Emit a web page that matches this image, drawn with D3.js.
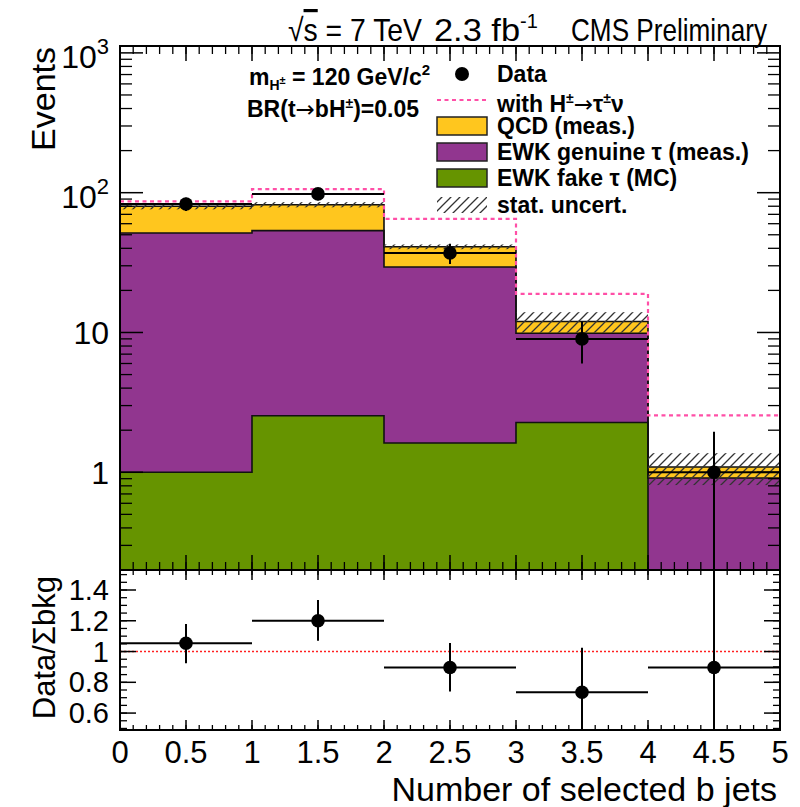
<!DOCTYPE html>
<html>
<head>
<meta charset="utf-8">
<script src="https://cdn.jsdelivr.net/npm/d3@7"></script>
<style>
body { margin: 0; background: #fff; }
svg { font-family: "Liberation Sans", Arial, Helvetica, sans-serif; }
.arrow { font-family: "DejaVu Sans", sans-serif; font-weight: normal; }
</style>
</head>
<body>
<svg id="chart" width="800" height="807"></svg>
<script>
// bins of "Number of selected b jets"
var binEdges = [0, 1, 2, 3, 4, 5];
var binCenters = [0.5, 1.5, 2.5, 3.5, 4.5];

// stacked backgrounds (events per bin)
var ewkFake = [1.0, 2.54, 1.62, 2.27, 0];
var ewkGenuine = [50.5, 51.0, 27.8, 7.6, 0.91];
var qcdMeas = [28.5, 28.5, 11.6, 2.1, 0.18];
var bkgStatErr = [4.0, 3.5, 1.6, 2.0, 0.28];

// signal + background, H+ -> tau nu
var withHiggs = [86.7, 106, 65, 18.9, 2.55];

// data
var dataCounts = [83, 98, 37, 9, 1];
var dataErrUp = [9.1, 9.9, 6.1, 3.0, 0.95];
var dataErrDown = [9.1, 9.9, 6.1, 3.0, 1.0];

// data / sum of backgrounds
var ratioVals = [1.054, 1.2, 0.896, 0.735, 0.896];
var ratioErrUp = [0.125, 0.135, 0.16, 0.29, 0.9];
var ratioErrDown = [0.13, 0.13, 0.155, 0.3, 0.9];

var xTickLabels = ["0", "0.5", "1", "1.5", "2", "2.5", "3", "3.5", "4", "4.5", "5"];
var ratioTickLabels = ["0.6", "0.8", "1", "1.2", "1.4"];

var colQCD = "#ffc61e",
    colGenuine = "#91368f",
    colFake = "#669400",
    colSignal = "#ff4fa7";

var svg = d3.select("#chart");

var x = d3.scaleLinear().domain([0, 5]).range([120, 780]);
var y = d3.scaleLog().domain([0.2, 1120]).range([570, 46]).clamp(true);
var yr = d3.scaleLinear().domain([0.49, 1.53]).range([730, 570]);

var defs = svg.append("defs");
defs.append("clipPath").attr("id", "clipTop")
    .append("rect").attr("x", 120).attr("y", 46).attr("width", 660).attr("height", 524);
defs.append("clipPath").attr("id", "clipRatio")
    .append("rect").attr("x", 120).attr("y", 570).attr("width", 660).attr("height", 160);

var hatch = defs.append("pattern").attr("id", "hatch")
    .attr("patternUnits", "userSpaceOnUse")
    .attr("width", 9).attr("height", 9);
hatch.append("path")
    .attr("d", "M-2,2 L2,-2 M0,9 L9,0 M7,11 L11,7")
    .style("stroke", "#333")
    .style("stroke-width", 1.3);

function safe(v) {
    return Math.max(v, 0.05);
}

// ---------- top panel ----------
var topPanel = svg.append("g").attr("clip-path", "url(#clipTop)");

var rows = binCenters.map(function (c, i) {
    return { fake: ewkFake[i], genuine: ewkGenuine[i], qcd: qcdMeas[i] };
});
var stacked = d3.stack().keys(["fake", "genuine", "qcd"])(rows);
var layerColors = { fake: colFake, genuine: colGenuine, qcd: colQCD };

function stepPoints(arr) {
    return binEdges.map(function (e, i) {
        return { x: e, v: arr[Math.min(i, arr.length - 1)] };
    });
}

var area = d3.area()
    .curve(d3.curveStepAfter)
    .x(function (d) { return x(d.x); })
    .y0(function (d) { return y(safe(d.v[0])); })
    .y1(function (d) { return y(safe(d.v[1])); });

var stepLine = d3.line()
    .curve(d3.curveStepAfter)
    .x(function (d) { return x(d.x); })
    .y(function (d) { return y(safe(d.v)); });

stacked.forEach(function (layer) {
    var pts = binEdges.map(function (e, i) {
        return { x: e, v: layer[Math.min(i, layer.length - 1)] };
    });
    topPanel.append("path")
        .attr("d", area(pts))
        .style("fill", layerColors[layer.key])
        .style("stroke", "none");
});

stacked.forEach(function (layer) {
    var tops = layer.map(function (d) { return d[1]; });
    topPanel.append("path")
        .attr("d", stepLine(stepPoints(tops)))
        .style("fill", "none")
        .style("stroke", "#111")
        .style("stroke-width", 1.6);
});

// stat. uncertainty band
var totals = stacked[2].map(function (d) { return d[1]; });
topPanel.selectAll(".band")
    .data(totals)
    .join("rect")
    .attr("class", "band")
    .attr("x", function (d, i) { return x(binEdges[i]); })
    .attr("width", function (d, i) { return x(binEdges[i + 1]) - x(binEdges[i]); })
    .attr("y", function (d, i) { return y(d + bkgStatErr[i]); })
    .attr("height", function (d, i) { return y(d - bkgStatErr[i]) - y(d + bkgStatErr[i]); })
    .style("fill", "url(#hatch)");

// with H+ line
topPanel.append("path")
    .attr("d", stepLine(stepPoints(withHiggs)))
    .style("fill", "none")
    .style("stroke", colSignal)
    .style("stroke-width", 2.2)
    .style("stroke-dasharray", "4,3.5");

// data
topPanel.selectAll(".xerr")
    .data(dataCounts)
    .join("line")
    .attr("x1", function (d, i) { return x(binEdges[i]); })
    .attr("x2", function (d, i) { return x(binEdges[i + 1]); })
    .attr("y1", function (d) { return y(d); })
    .attr("y2", function (d) { return y(d); })
    .style("stroke", "#000").style("stroke-width", 2);
topPanel.selectAll(".yerr")
    .data(dataCounts)
    .join("line")
    .attr("x1", function (d, i) { return x(binCenters[i]); })
    .attr("x2", function (d, i) { return x(binCenters[i]); })
    .attr("y1", function (d, i) { return y(d + dataErrUp[i]); })
    .attr("y2", function (d, i) { return y(safe(d - dataErrDown[i])); })
    .style("stroke", "#000").style("stroke-width", 2);
topPanel.selectAll(".pt")
    .data(dataCounts)
    .join("circle")
    .attr("cx", function (d, i) { return x(binCenters[i]); })
    .attr("cy", function (d) { return y(d); })
    .attr("r", 6.8)
    .style("fill", "#000");

// ---------- ratio panel ----------
var rat = svg.append("g").attr("clip-path", "url(#clipRatio)");

rat.append("line")
    .attr("x1", x(0)).attr("x2", x(5))
    .attr("y1", yr(1)).attr("y2", yr(1))
    .style("stroke", "#ff2020").style("stroke-width", 1.6)
    .style("stroke-dasharray", "2,2");

rat.selectAll(".rxerr")
    .data(ratioVals)
    .join("line")
    .attr("x1", function (d, i) { return x(binEdges[i]); })
    .attr("x2", function (d, i) { return x(binEdges[i + 1]); })
    .attr("y1", function (d) { return yr(d); })
    .attr("y2", function (d) { return yr(d); })
    .style("stroke", "#000").style("stroke-width", 2);
rat.selectAll(".ryerr")
    .data(ratioVals)
    .join("line")
    .attr("x1", function (d, i) { return x(binCenters[i]); })
    .attr("x2", function (d, i) { return x(binCenters[i]); })
    .attr("y1", function (d, i) { return yr(d + ratioErrUp[i]); })
    .attr("y2", function (d, i) { return yr(d - ratioErrDown[i]); })
    .style("stroke", "#000").style("stroke-width", 2);
rat.selectAll(".rpt")
    .data(ratioVals)
    .join("circle")
    .attr("cx", function (d, i) { return x(binCenters[i]); })
    .attr("cy", function (d) { return yr(d); })
    .attr("r", 6.8)
    .style("fill", "#000");

// ---------- axes / ticks ----------
var axes = svg.append("g").style("stroke", "#000");

function hTicks(vals, yPos, len, dir, w) {
    vals.forEach(function (v) {
        axes.append("line")
            .attr("x1", x(v)).attr("x2", x(v))
            .attr("y1", yPos).attr("y2", yPos + dir * len)
            .style("stroke-width", w);
    });
}
function vTicks(scale, vals, len, w) {
    vals.forEach(function (v) {
        axes.append("line")
            .attr("x1", 120).attr("x2", 120 + len)
            .attr("y1", scale(v)).attr("y2", scale(v))
            .style("stroke-width", w);
        axes.append("line")
            .attr("x1", 780).attr("x2", 780 - len)
            .attr("y1", scale(v)).attr("y2", scale(v))
            .style("stroke-width", w);
    });
}

var xMajor = x.ticks(10),
    xMinor = x.ticks(50);

// top panel x ticks (top and bottom edges)
hTicks(xMinor, 46, 8, 1, 1.3);
hTicks(xMajor, 46, 15, 1, 1.5);
hTicks(xMinor, 570, 8, -1, 1.3);
hTicks(xMajor, 570, 15, -1, 1.5);
// ratio panel x ticks
hTicks(xMinor, 570, 5, 1, 1.3);
hTicks(xMajor, 570, 10, 1, 1.5);
hTicks(xMinor, 730, 5, -1, 1.3);
hTicks(xMajor, 730, 10, -1, 1.5);

var yMajor = [1, 10, 100, 1000];
var yMinor = y.ticks().filter(function (v) {
    return yMajor.indexOf(v) < 0;
});
vTicks(y, yMinor, 12, 1.3);
vTicks(y, yMajor, 23, 1.5);

var rMajor = yr.ticks(5),
    rMinor = yr.ticks(20);
vTicks(yr, rMinor, 7, 1.3);
vTicks(yr, rMajor, 16, 1.5);

// frames
axes.append("rect").attr("x", 120).attr("y", 46).attr("width", 660).attr("height", 524)
    .style("fill", "none").style("stroke-width", 2);
axes.append("rect").attr("x", 120).attr("y", 570).attr("width", 660).attr("height", 160)
    .style("fill", "none").style("stroke-width", 2);

// tick labels
var labels = svg.append("g").style("fill", "#000");

var yLabelData = [
    { v: 1000, base: "10", exp: "3" },
    { v: 100, base: "10", exp: "2" },
    { v: 10, base: "10", exp: "" },
    { v: 1, base: "1", exp: "" }
];
yLabelData.forEach(function (d) {
    var t = labels.append("text")
        .attr("x", 109)
        .attr("y", y(d.v) + (d.exp ? 15 : 12))
        .attr("text-anchor", "end")
        .style("font-size", "32px");
    t.append("tspan").text(d.base);
    if (d.exp) {
        t.append("tspan").attr("dy", -14).style("font-size", "22px").text(d.exp);
    }
});

rMajor.forEach(function (v, i) {
    labels.append("text")
        .attr("x", 109)
        .attr("y", yr(v) + 10)
        .attr("text-anchor", "end")
        .style("font-size", "29px")
        .text(ratioTickLabels[i]);
});

xMajor.forEach(function (v, i) {
    labels.append("text")
        .attr("x", x(v))
        .attr("y", 763)
        .attr("text-anchor", "middle")
        .style("font-size", "31px")
        .text(xTickLabels[i]);
});

// axis titles
labels.append("text")
    .attr("transform", "translate(55,47) rotate(-90)")
    .attr("text-anchor", "end")
    .style("font-size", "34px")
    .text("Events");
labels.append("text")
    .attr("transform", "translate(55,576) rotate(-90)")
    .attr("text-anchor", "end")
    .style("font-size", "31px")
    .text("Data/\u03a3bkg");
labels.append("text")
    .attr("x", 777).attr("y", 801)
    .attr("text-anchor", "end")
    .style("font-size", "34px")
    .text("Number of selected b jets");

// header
var head1 = labels.append("text")
    .attr("x", 288).attr("y", 41)
    .attr("textLength", 134).attr("lengthAdjust", "spacingAndGlyphs")
    .style("font-size", "32px");
head1.append("tspan").text("\u221a");
head1.append("tspan").style("text-decoration", "overline").text("s");
head1.append("tspan").text(" = 7 TeV");

var head2 = labels.append("text")
    .attr("x", 434).attr("y", 41)
    .style("font-size", "32px");
head2.append("tspan").attr("textLength", 86).attr("lengthAdjust", "spacingAndGlyphs").text("2.3 fb");
head2.append("tspan").attr("dy", -13).style("font-size", "20px").text("-1");

labels.append("text")
    .attr("x", 767).attr("y", 41)
    .attr("text-anchor", "end")
    .attr("textLength", 196).attr("lengthAdjust", "spacingAndGlyphs")
    .style("font-size", "32px")
    .text("CMS Preliminary");

// mass / BR annotation
var ann1 = labels.append("text")
    .attr("x", 249).attr("y", 85)
    .style("font-size", "23px").style("font-weight", "bold");
ann1.append("tspan").text("m");
ann1.append("tspan").attr("dy", 5).style("font-size", "14px").text("H");
ann1.append("tspan").attr("dy", -6).style("font-size", "11px").text("\u00b1");
ann1.append("tspan").attr("dy", 1).text(" = 120 GeV/c");
ann1.append("tspan").attr("dy", -10).style("font-size", "15px").text("2");

var ann2 = labels.append("text")
    .attr("x", 247).attr("y", 117)
    .style("font-size", "23px").style("font-weight", "bold");
ann2.append("tspan").text("BR(t");
ann2.append("tspan").attr("class", "arrow").text("\u2192");
ann2.append("tspan").text("bH");
ann2.append("tspan").attr("dy", -9).style("font-size", "14px").text("\u00b1");
ann2.append("tspan").attr("dy", 9).text(")=0.05");

// legend
var leg = svg.append("g");
var legX = 437, legW = 50, legTextX = 497;
var legRows = [
    { label: "Data", type: "data", cy: 74 },
    { label: "with", type: "signal", cy: 100 },
    { label: "QCD (meas.)", type: "box", fill: colQCD, cy: 126 },
    { label: "EWK genuine \u03c4 (meas.)", type: "box", fill: colGenuine, cy: 152 },
    { label: "EWK fake \u03c4 (MC)", type: "box", fill: colFake, cy: 178 },
    { label: "stat. uncert.", type: "hatch", cy: 205 }
];
legRows.forEach(function (r) {
    if (r.type == "data") {
        leg.append("circle").attr("cx", legX + legW / 2).attr("cy", r.cy).attr("r", 7).style("fill", "#000");
    } else if (r.type == "signal") {
        leg.append("line")
            .attr("x1", legX).attr("x2", legX + legW)
            .attr("y1", r.cy).attr("y2", r.cy)
            .style("stroke", colSignal).style("stroke-width", 2.2)
            .style("stroke-dasharray", "4,3.5");
    } else if (r.type == "box") {
        leg.append("rect")
            .attr("x", legX).attr("y", r.cy - 9).attr("width", legW).attr("height", 18)
            .style("fill", r.fill).style("stroke", "#222").style("stroke-width", 1.5);
    } else {
        leg.append("rect")
            .attr("x", legX).attr("y", r.cy - 8).attr("width", legW).attr("height", 16)
            .style("fill", "url(#hatch)");
    }
    var t = leg.append("text")
        .attr("x", legTextX).attr("y", r.cy + (r.type == "signal" ? 12 : 8))
        .style("font-size", "23px").style("font-weight", "bold");
    if (r.type == "signal") {
        t.append("tspan").text("with H");
        t.append("tspan").attr("dy", -9).style("font-size", "14px").text("\u00b1");
        t.append("tspan").attr("dy", 9).attr("class", "arrow").text("\u2192");
        t.append("tspan").text("\u03c4");
        t.append("tspan").attr("dy", -9).style("font-size", "14px").text("\u00b1");
        t.append("tspan").attr("dy", 9).text("\u03bd");
    } else {
        t.text(r.label);
    }
});
</script>
</body>
</html>
